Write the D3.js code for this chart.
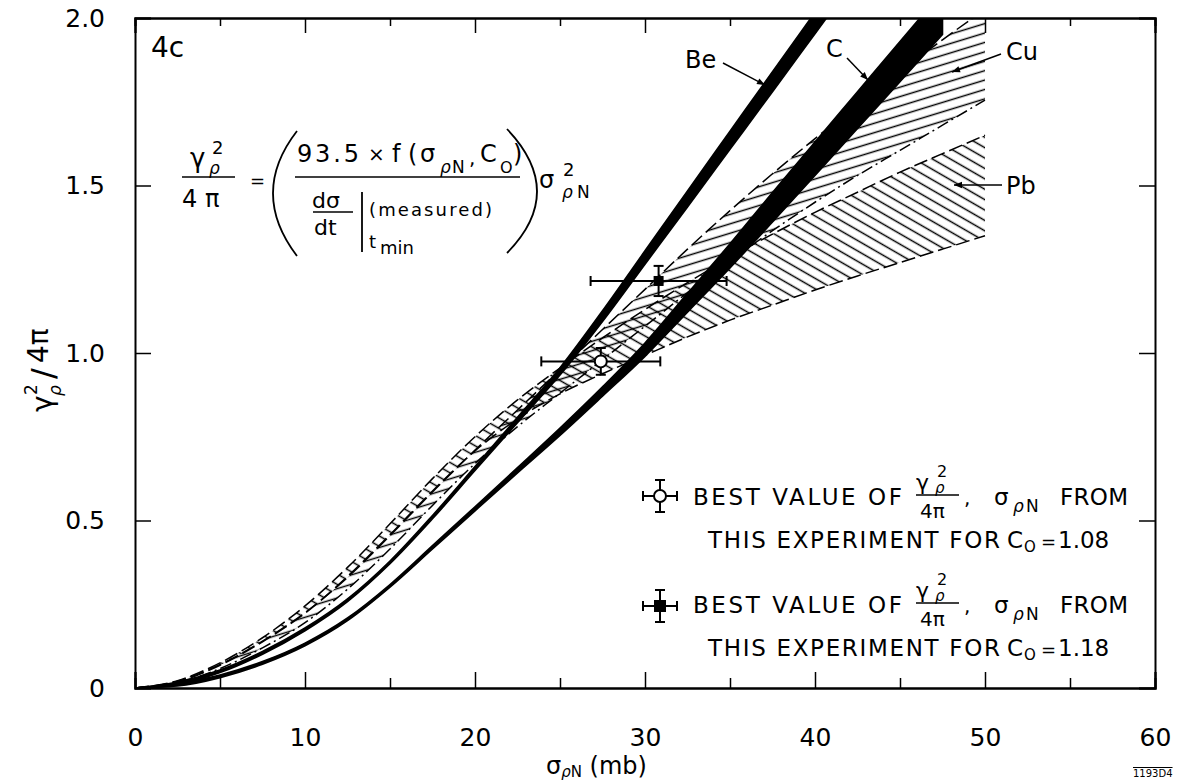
<!DOCTYPE html>
<html>
<head>
<meta charset="utf-8">
<script src="https://cdn.jsdelivr.net/npm/d3@7"></script>
<style>
body { margin: 0; background: #fff; }
text { font-family: "DejaVu Sans", sans-serif; fill: #000; }
</style>
</head>
<body>
<svg id="chart" width="1191" height="782"></svg>
<script>
// sigma_rhoN grid (mb) shared by all curves
var sigma = [0, 2.5, 5, 7.5, 10, 12.5, 15, 17.5, 20, 22.5, 25, 27.5, 30, 32.5, 35, 37.5, 40, 42.5, 45, 47.5, 50];

// Be band (lower / upper edge), runs out of the frame near 40 mb
var beLow  = [0, 0.010, 0.046, 0.101, 0.171, 0.258, 0.371, 0.505, 0.649, 0.792, 0.934, 1.094, 1.265, 1.436, 1.608, 1.78, 1.953, 2.126];
var beHigh = [0, 0.018, 0.054, 0.109, 0.179, 0.266, 0.379, 0.515, 0.661, 0.808, 0.956, 1.126, 1.305, 1.484, 1.662, 1.84, 2.017, 2.194];

// C band
var cLow  = [0, 0.006, 0.031, 0.071, 0.126, 0.201, 0.301, 0.415, 0.529, 0.642, 0.754, 0.871, 0.99, 1.122, 1.254, 1.391, 1.53, 1.67, 1.81, 1.951];
var cHigh = [0, 0.014, 0.039, 0.079, 0.134, 0.209, 0.309, 0.425, 0.541, 0.658, 0.776, 0.899, 1.03, 1.178, 1.326, 1.479, 1.63, 1.78, 1.93, 2.079];

// Cu hatched band (upper edge dashed, lower edge dash-dot)
var cuLow  = [0, 0.016, 0.058, 0.12, 0.195, 0.295, 0.415, 0.545, 0.67, 0.78, 0.88, 0.98, 1.08, 1.18, 1.275, 1.365, 1.45, 1.53, 1.605, 1.68, 1.755];
var cuHigh = [0, 0.02, 0.07, 0.14, 0.225, 0.33, 0.455, 0.585, 0.71, 0.83, 0.95, 1.07, 1.19, 1.31, 1.425, 1.535, 1.64, 1.74, 1.84, 1.935, 2.025];

// Pb hatched band (both edges dashed)
var pbLow  = [0, 0.018, 0.068, 0.138, 0.223, 0.333, 0.458, 0.588, 0.708, 0.803, 0.878, 0.938, 0.993, 1.048, 1.098, 1.143, 1.188, 1.23, 1.27, 1.31, 1.35];
var pbHigh = [0, 0.022, 0.075, 0.15, 0.245, 0.36, 0.49, 0.625, 0.75, 0.86, 0.955, 1.045, 1.13, 1.21, 1.285, 1.355, 1.42, 1.48, 1.54, 1.595, 1.65];

// best values (open circle: C0=1.08, filled square: C0=1.18)
var bestSigma = [27.4, 30.8];
var bestGamma = [0.975, 1.215];
var bestSigmaErr = [3.5, 4.0];
var bestGammaErr = [0.04, 0.045];
var bestFilled = [false, true];

var xTicks = [0, 10, 20, 30, 40, 50, 60];
var xMinor = [5, 15, 25, 35, 45, 55];
var yTicks = [0, 0.5, 1.0, 1.5, 2.0];
var yTickLabels = ["0", "0.5", "1.0", "1.5", "2.0"];

var margin = {top: 18, right: 36, bottom: 94, left: 135},
    width = 1191 - margin.left - margin.right,
    height = 782 - margin.top - margin.bottom;

var svg = d3.select("#chart");
var defs = svg.append("defs");

var x = d3.scaleLinear().domain([0, 60]).range([margin.left, margin.left + width]);
var y = d3.scaleLinear().domain([0, 2]).range([margin.top + height, margin.top]);

defs.append("clipPath").attr("id", "plotclip")
  .append("rect")
  .attr("x", margin.left).attr("y", margin.top)
  .attr("width", width).attr("height", height);

// hatch patterns
function hatch(id, angle, gap) {
  var p = defs.append("pattern")
    .attr("id", id)
    .attr("patternUnits", "userSpaceOnUse")
    .attr("width", 40).attr("height", gap)
    .attr("patternTransform", "rotate(" + angle + ")");
  p.append("line")
    .attr("x1", 0).attr("x2", 40)
    .attr("y1", gap / 2).attr("y2", gap / 2)
    .attr("stroke", "#000").attr("stroke-width", 1.3);
}
hatch("cuHatch", -17, 9);
hatch("pbHatch", 30, 9);

defs.append("marker")
  .attr("id", "arrow")
  .attr("viewBox", "0 0 10 10")
  .attr("refX", 10).attr("refY", 5)
  .attr("markerWidth", 12).attr("markerHeight", 8)
  .attr("markerUnits", "userSpaceOnUse")
  .attr("orient", "auto")
  .append("path").attr("d", "M0,1 L10,5 L0,9 Z").attr("fill", "#000");

var plot = svg.append("g").attr("clip-path", "url(#plotclip)");

function band(lo, hi) {
  var rows = lo.map(function(v, i) { return {s: sigma[i], lo: v, hi: hi[i]}; });
  return d3.area()
    .x(function(d) { return x(d.s); })
    .y0(function(d) { return y(d.lo); })
    .y1(function(d) { return y(d.hi); })
    .curve(d3.curveMonotoneX)(rows);
}
function edge(vals) {
  var rows = vals.map(function(v, i) { return {s: sigma[i], v: v}; });
  return d3.line()
    .x(function(d) { return x(d.s); })
    .y(function(d) { return y(d.v); })
    .curve(d3.curveMonotoneX)(rows);
}

// Pb band
plot.append("path").attr("d", band(pbLow, pbHigh)).attr("fill", "url(#pbHatch)");
plot.append("path").attr("d", edge(pbHigh)).attr("fill", "none")
  .attr("stroke", "#000").attr("stroke-width", 1.5).attr("stroke-dasharray", "14,5");
plot.append("path").attr("d", edge(pbLow)).attr("fill", "none")
  .attr("stroke", "#000").attr("stroke-width", 1.5).attr("stroke-dasharray", "14,5");

// Cu band
plot.append("path").attr("d", band(cuLow, cuHigh)).attr("fill", "url(#cuHatch)");
plot.append("path").attr("d", edge(cuHigh)).attr("fill", "none")
  .attr("stroke", "#000").attr("stroke-width", 1.5).attr("stroke-dasharray", "14,5");
plot.append("path").attr("d", edge(cuLow)).attr("fill", "none")
  .attr("stroke", "#000").attr("stroke-width", 1.5).attr("stroke-dasharray", "12,4,2,4");

// Be and C solid bands
plot.append("path").attr("d", band(beLow, beHigh))
  .attr("fill", "#000").attr("stroke", "#000").attr("stroke-width", 1.6);
plot.append("path").attr("d", band(cLow, cHigh))
  .attr("fill", "#000").attr("stroke", "#000").attr("stroke-width", 1.6);

// best-value points with error bars
var pts = plot.selectAll(".best").data(bestSigma).enter().append("g");
pts.each(function(s, i) {
  var g = d3.select(this), cx = x(s), cy = y(bestGamma[i]);
  var x0 = x(s - bestSigmaErr[i]), x1 = x(s + bestSigmaErr[i]);
  var y0 = y(bestGamma[i] - bestGammaErr[i]), y1 = y(bestGamma[i] + bestGammaErr[i]);
  [[x0, cy, x1, cy], [cx, y0, cx, y1], [x0, cy - 5, x0, cy + 5], [x1, cy - 5, x1, cy + 5],
   [cx - 5, y0, cx + 5, y0], [cx - 5, y1, cx + 5, y1]].forEach(function(l) {
    g.append("line").attr("x1", l[0]).attr("y1", l[1]).attr("x2", l[2]).attr("y2", l[3])
      .attr("stroke", "#000").attr("stroke-width", 2);
  });
  if (bestFilled[i]) {
    g.append("rect").attr("x", cx - 5).attr("y", cy - 5).attr("width", 10).attr("height", 10).attr("fill", "#000");
  } else {
    g.append("circle").attr("cx", cx).attr("cy", cy).attr("r", 6)
      .attr("fill", "#fff").attr("stroke", "#000").attr("stroke-width", 2);
  }
});

// axes
function styleAxis(g) {
  g.select(".domain").attr("stroke-width", 2);
  g.selectAll(".tick line").attr("stroke-width", 1.5);
  g.selectAll("text").style("font-family", "DejaVu Sans").style("font-size", "25px").attr("fill", "#000");
}
svg.append("g").attr("transform", "translate(0," + y(0) + ")")
  .call(d3.axisBottom(x).tickValues(xTicks).tickSize(-16).tickPadding(40).tickFormat(d3.format("d")))
  .call(styleAxis);
svg.append("g").attr("transform", "translate(0," + y(0) + ")")
  .call(d3.axisBottom(x).tickValues(xMinor).tickSize(-10).tickFormat(""))
  .call(styleAxis);
svg.append("g").attr("transform", "translate(0," + y(2) + ")")
  .call(d3.axisTop(x).tickValues(xTicks).tickSize(-15).tickFormat(""))
  .call(styleAxis);
svg.append("g").attr("transform", "translate(0," + y(2) + ")")
  .call(d3.axisTop(x).tickValues(xMinor).tickSize(-8).tickFormat(""))
  .call(styleAxis);
svg.append("g").attr("transform", "translate(" + x(0) + ",0)")
  .call(d3.axisLeft(y).tickValues(yTicks).tickSize(-16).tickPadding(30)
    .tickFormat(function(d, i) { return yTickLabels[i]; }))
  .call(styleAxis);
svg.append("g").attr("transform", "translate(" + x(60) + ",0)")
  .call(d3.axisRight(y).tickValues(yTicks).tickSize(-16).tickFormat(""))
  .call(styleAxis);

// axis titles
var xt = svg.append("text").attr("x", 546).attr("y", 774).style("font-size", "24px");
xt.append("tspan").text("σ");
xt.append("tspan").attr("dy", 3).style("font-size", "15px").style("font-style", "italic").text("ρ");
xt.append("tspan").style("font-size", "15px").text("N");
xt.append("tspan").attr("dy", -3).text(" (mb)");

var yt = svg.append("g").attr("transform", "translate(52,352) rotate(-90)");
yt.append("text").attr("x", -60).attr("y", 0).style("font-size", "28px").text("γ");
yt.append("text").attr("x", -43).attr("y", -15).style("font-size", "17px").text("2");
yt.append("text").attr("x", -44).attr("y", 9).style("font-size", "17px").style("font-style", "italic").text("ρ");
yt.append("text").attr("x", -27).attr("y", 2).style("font-size", "32px").text("/");
yt.append("text").attr("x", -11).attr("y", -4).style("font-size", "28px").text("4π");

svg.append("text").attr("x", 1133).attr("y", 777).style("font-size", "10px")
  .style("text-decoration", "overline").text("1193D4");

// panel tag
svg.append("text").attr("x", 151).attr("y", 57).style("font-size", "28px").text("4c");

// formula
function t(xp, yp, size, str, italic) {
  var e = svg.append("text").attr("x", xp).attr("y", yp).style("font-size", size + "px").text(str);
  if (italic) e.style("font-style", "italic");
  return e;
}
function hl(x1, x2, yp) {
  svg.append("line").attr("x1", x1).attr("x2", x2).attr("y1", yp).attr("y2", yp)
    .attr("stroke", "#000").attr("stroke-width", 1.6);
}
t(190, 167, 26, "γ");
t(212, 154, 18, "2");
t(209, 174, 17, "ρ", true);
hl(182, 235, 177);
t(182, 207, 24, "4");
t(205, 207, 24, "π");
t(250, 187, 18, "=");
svg.append("path").attr("d", "M297,131 Q249,193 297,256").attr("fill", "none").attr("stroke", "#000").attr("stroke-width", 1.8);
svg.append("path").attr("d", "M507,129 Q567,192 507,253").attr("fill", "none").attr("stroke", "#000").attr("stroke-width", 1.8);
t(297, 162, 24, "93.5").attr("textLength", 62).attr("lengthAdjust", "spacing");
t(368, 161, 20, "×");
t(392, 162, 24, "f");
t(408, 162, 24, "(");
t(420, 162, 24, "σ");
t(440, 173, 17, "ρ", true);
t(452, 173, 17, "N");
t(469, 165, 20, ",");
t(480, 162, 24, "C");
t(500, 173, 16, "O");
t(513, 162, 24, ")");
hl(295, 520, 177);
t(312, 208, 22, "dσ");
hl(313, 353, 212);
t(314, 235, 22, "dt");
svg.append("line").attr("x1", 362).attr("x2", 362).attr("y1", 192).attr("y2", 252)
  .attr("stroke", "#000").attr("stroke-width", 1.8);
t(369, 216, 18, "(measured)").attr("textLength", 123).attr("lengthAdjust", "spacing");
t(369, 248, 18, "t");
t(380, 254, 18, "min");
t(539, 188, 24, "σ");
t(563, 176, 18, "2");
t(562, 198, 17, "ρ", true);
t(577, 198, 17, "N");

// curve labels
t(685, 68, 24, "Be");
t(826, 57, 24, "C");
t(1006, 60, 24, "Cu");
t(1006, 194, 24, "Pb");
[[723, 63, 765, 85], [847, 58, 868, 80], [1001, 54, 952, 72], [1002, 185, 954, 185]].forEach(function(a) {
  svg.append("line").attr("x1", a[0]).attr("y1", a[1]).attr("x2", a[2]).attr("y2", a[3])
    .attr("stroke", "#000").attr("stroke-width", 1.5).attr("marker-end", "url(#arrow)");
});

// legend
function legendSymbol(cx, cy, filled) {
  [[cx - 17, cy, cx + 17, cy], [cx, cy - 16, cx, cy + 16], [cx - 17, cy - 5, cx - 17, cy + 5],
   [cx + 17, cy - 5, cx + 17, cy + 5], [cx - 5, cy - 16, cx + 5, cy - 16], [cx - 5, cy + 16, cx + 5, cy + 16]]
    .forEach(function(l) {
      svg.append("line").attr("x1", l[0]).attr("y1", l[1]).attr("x2", l[2]).attr("y2", l[3])
        .attr("stroke", "#000").attr("stroke-width", 2);
    });
  if (filled) svg.append("rect").attr("x", cx - 6).attr("y", cy - 6).attr("width", 12).attr("height", 12).attr("fill", "#000");
  else svg.append("circle").attr("cx", cx).attr("cy", cy).attr("r", 6).attr("fill", "#fff").attr("stroke", "#000").attr("stroke-width", 2);
}
function legendRows(base, symY, filled, cval) {
  legendSymbol(660, symY, filled);
  t(693, base, 23, "BEST VALUE OF").attr("textLength", 209).attr("lengthAdjust", "spacing");
  t(916, base - 15, 22, "γ");
  t(937, base - 28, 16, "2");
  t(935, base - 12, 15, "ρ", true);
  hl(916, 959, base - 10);
  t(920, base + 13, 20, "4π");
  t(964, base, 20, ",");
  t(994, base, 23, "σ");
  t(1013, base + 7, 17, "ρ", true);
  t(1026, base + 7, 17, "N");
  t(1060, base, 23, "FROM").attr("textLength", 68).attr("lengthAdjust", "spacing");
  t(708, base + 43, 23, "THIS EXPERIMENT FOR").attr("textLength", 292).attr("lengthAdjust", "spacing");
  t(1007, base + 43, 23, "C");
  t(1024, base + 47, 15, "O");
  t(1041, base + 43, 18, "=");
  t(1058, base + 43, 23, cval);
}
legendRows(505, 496, false, "1.08");
legendRows(613, 606, true, "1.18");
</script>
</body>
</html>
